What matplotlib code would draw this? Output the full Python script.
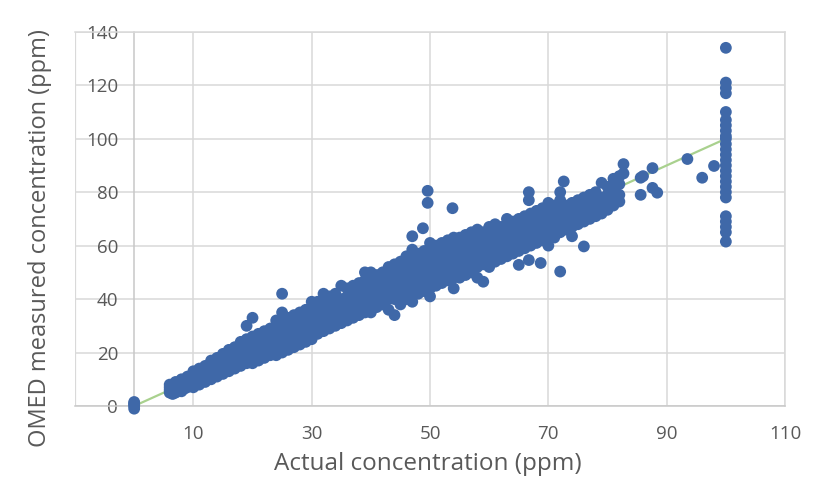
import matplotlib
matplotlib.use("Agg")
import matplotlib.pyplot as plt

# actual concentration levels (ppm) and the readings taken at each level
levels = [
    0, 6, 6.5, 7, 7.5, 8, 8.5, 9, 10, 11, 12, 13, 14, 15, 16, 17, 18, 19, 20,
    21, 22, 23, 24, 25, 26, 27, 28, 29, 30, 31, 32, 33, 34, 35, 36, 37, 38,
    39, 40, 41, 42, 43, 44, 45, 46, 47, 48, 48.8, 49, 49.6, 50, 51, 52, 53,
    53.8, 54, 55, 56, 57, 58, 59, 60, 61, 62, 63, 64, 65, 66, 66.7, 67, 68,
    68.7, 69, 70, 71, 72, 72.6, 73, 74, 75, 76, 77, 78, 79, 80, 81, 82, 82.7,
    85.6, 86, 87.6, 88.4, 93.5, 96, 98, 100,
]
readings = [
    [-1, 0, 0.5, 1, 1.5],
    [5, 6, 7, 8], [4.5, 7.5], [5, 6.5, 8, 9], [6, 7], [5.5, 7, 8.5, 10],
    [6.5, 9], [7, 8, 9.5, 11],
    [7, 8.5, 10, 11.5, 13], [8, 9.5, 11, 12.5, 14], [9, 10.5, 12, 13.5, 15],
    [10, 12, 13.5, 15, 17], [11, 13, 14.5, 16, 18], [12, 14, 15.5, 17, 19.5],
    [13, 15, 17, 19, 21], [14, 16, 18, 20, 22], [15, 17, 19, 21, 24],
    [16, 18, 20.5, 23, 25, 30], [16, 19, 21, 23, 26, 33],
    [17, 20, 22, 24.5, 27], [18, 21, 23.5, 26, 28], [19, 22, 24, 27, 29],
    [19, 22, 25, 28, 30, 32], [20, 23, 26, 29, 31, 35, 42],
    [21, 24, 27, 30, 33], [22, 25, 28, 31, 34], [23, 26, 29, 32, 35],
    [24, 27, 30, 33, 36], [25, 28, 31, 34, 37, 39], [27, 30, 33, 36, 39],
    [28, 31, 34, 37, 39, 42], [29, 32, 35, 38, 41], [30, 33, 36, 39, 42],
    [31, 34, 37, 40, 45], [32, 35, 38, 41, 44], [33, 35, 38, 42, 45],
    [34, 37, 40, 43, 46], [35, 38, 41, 44, 47, 50], [35, 38, 41, 44, 47, 50],
    [37, 40, 43, 46, 49], [38, 41, 44, 47, 50], [36, 40, 43, 46, 49, 52],
    [34, 40, 43, 46, 49, 53], [38, 41, 44, 47, 50, 54], [40, 43, 46, 49, 52, 56],
    [39, 43, 46, 49, 52, 55, 58.5, 63.5], [42, 45, 48, 51, 54, 57], [66.5],
    [43, 46, 49, 52, 55, 58], [76, 80.5], [41, 44, 47, 50, 53, 56, 59, 61],
    [45, 48, 51, 54, 57, 60], [46, 49, 52, 55, 58, 61], [47, 50, 53, 56, 59, 62],
    [74], [44, 48, 51, 54, 57, 60, 63], [48, 51, 54, 57, 60, 63],
    [49, 52, 55, 58, 61, 64], [50, 53, 56, 59, 62, 65],
    [48, 52, 55, 58, 61, 64, 66], [46.5, 53, 56, 59, 62, 65],
    [52, 55, 58, 61, 64, 67], [54, 57, 60, 63, 66, 68], [55, 58, 61, 64, 67],
    [56, 59, 62, 65, 68, 70], [57, 60, 63, 66, 69], [52.8, 58, 61, 64, 67, 70],
    [59, 62, 65, 68, 71], [54.6, 77, 80], [60, 63, 66, 69, 72],
    [61, 64, 67, 70, 73], [53.5], [62, 65, 68, 71, 74],
    [60, 64, 67, 70, 73, 76], [63, 66, 69, 72, 75],
    [50.3, 65, 68, 71, 74, 77, 80], [84], [66, 69, 72, 75],
    [63.5, 67, 70, 73, 76], [68, 71, 74, 77], [59.7, 69, 71.5, 75, 78],
    [70, 73, 76, 79], [71, 74, 77, 80], [72, 75, 78, 83.5], [73.4, 76, 79, 82],
    [75, 78, 81, 85], [76.5, 79, 83, 86], [87, 90.5], [79, 85.4], [86],
    [89, 81.6], [79.8], [92.4], [85.4], [89.8],
    [134, 121, 119, 117, 110, 107, 105, 103, 101, 100, 98, 96, 94, 92, 90,
     88, 86, 84, 82, 80, 78, 71, 69, 67, 65, 61.5],
]

ideal_x = [0, 100]
ideal_y = [0, 100]

x_ticks = [10, 30, 50, 70, 90, 110]
y_ticks = [0, 20, 40, 60, 80, 100, 120, 140]

TEXT = "#595959"
GRID = "#D9D9D9"
BLUE = "#3F68A8"
GREEN = "#A9D18E"

actual = [lv for lv, vals in zip(levels, readings) for _ in vals]
measured = [v for vals in readings for v in vals]

plt.rcParams["font.family"] = ["Open Sans", "DejaVu Sans"]

fig = plt.figure(figsize=(8.18, 4.86), dpi=100)
ax = fig.add_axes([0.0917, 0.1646, 0.868, 0.770])

ax.plot(ideal_x, ideal_y, color=GREEN, lw=1.6, zorder=2)
ax.scatter(actual, measured, s=72, color=BLUE, edgecolors="none", zorder=3, clip_on=False)

ax.set_xlim(-10, 110)
ax.set_ylim(0, 140)
ax.set_xticks(x_ticks)
ax.set_yticks(y_ticks)
ax.grid(True, color=GRID, lw=1.1, zorder=0)
ax.set_axisbelow(True)

# y axis sits at x = 0, the frame at x = -10
ax.spines["left"].set_position(("data", 0))
ax.spines["left"].set_color("#C8C8C8")
ax.spines["bottom"].set_color("#C8C8C8")
for s in ("top", "right"):
    ax.spines[s].set_color(GRID)
ax.axvline(-10, color=GRID, lw=1.6, zorder=1)
for s in ax.spines.values():
    s.set_linewidth(1.1)

ax.tick_params(axis="both", length=0, labelsize=13.5, colors=TEXT)
ax.tick_params(axis="y", pad=11.5)
ax.tick_params(axis="x", pad=14)

ax.set_xlabel("Actual concentration (ppm)", fontsize=17.5, color=TEXT)
ax.set_ylabel("OMED measured concentration (ppm)", fontsize=17, color=TEXT)
ax.xaxis.set_label_coords(0.497, -0.122)
ax.yaxis.set_label_coords(-0.033, 0.45)

fig.savefig("out.png", dpi=100)
